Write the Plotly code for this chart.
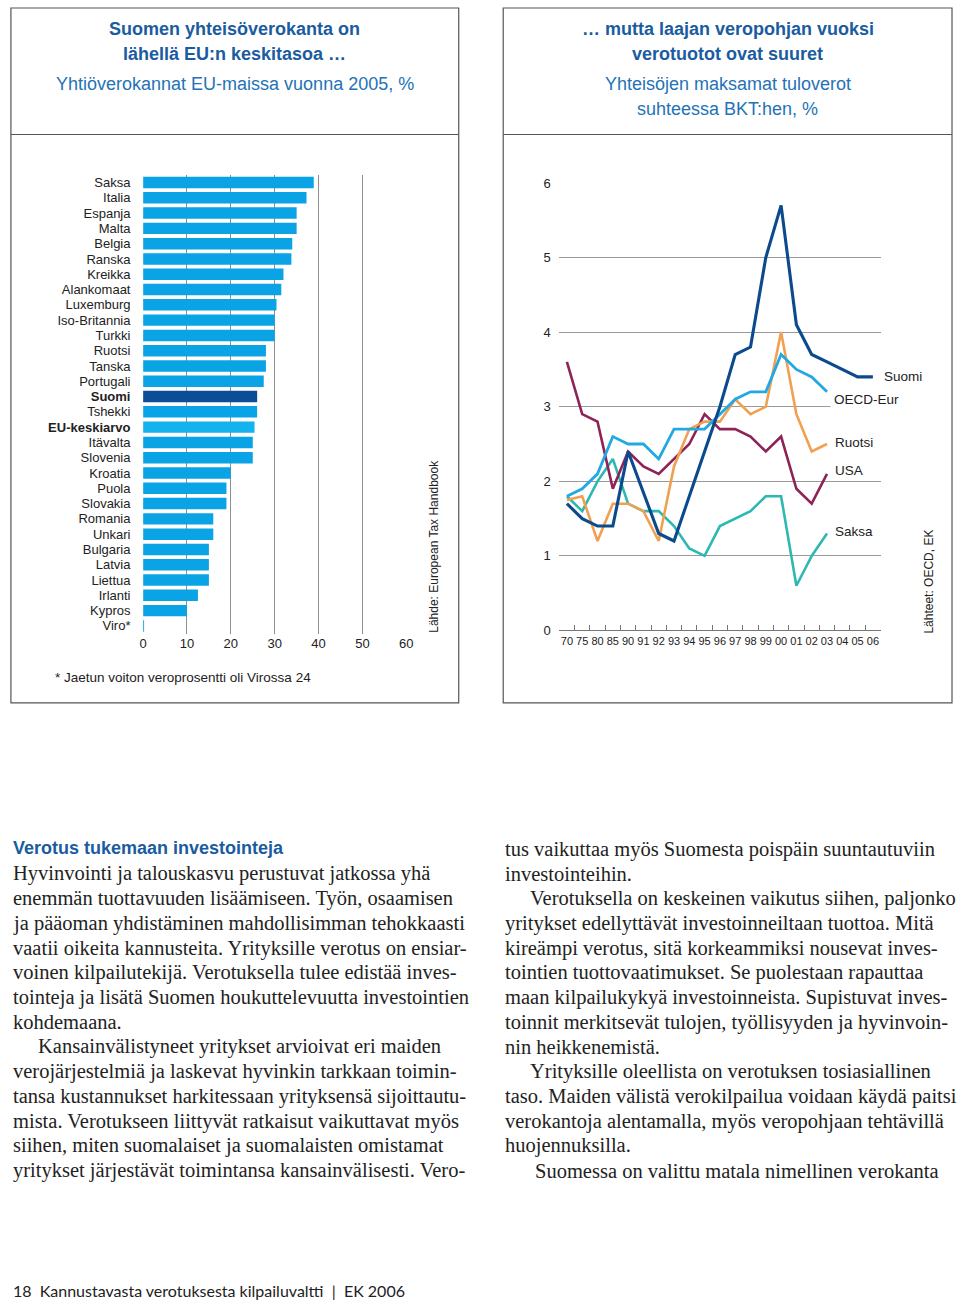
import plotly.graph_objects as go

# ---------------- data ----------------
countries = ["Saksa", "Italia", "Espanja", "Malta", "Belgia", "Ranska", "Kreikka",
             "Alankomaat", "Luxemburg", "Iso-Britannia", "Turkki", "Ruotsi", "Tanska",
             "Portugali", "Suomi", "Tshekki", "EU-keskiarvo", "Itävalta", "Slovenia",
             "Kroatia", "Puola", "Slovakia", "Romania", "Unkari", "Bulgaria", "Latvia",
             "Liettua", "Irlanti", "Kypros", "Viro*"]
tax_rates = [38.9, 37.25, 35.0, 35.0, 34.0, 33.8, 32.0, 31.5, 30.4, 30.0, 30.0, 28.0, 28.0,
             27.5, 26.0, 26.0, 25.4, 25.0, 25.0, 20.0, 19.0, 19.0, 16.0, 16.0, 15.0, 15.0,
             15.0, 12.5, 10.0, 0.2]
bar_ticks = [0, 10, 20, 30, 40, 50, 60]

years = ["70", "75", "80", "85", "90", "91", "92", "93", "94", "95", "96", "97", "98",
         "99", "00", "01", "02", "03", "04", "05", "06"]
suomi = [1.7, 1.5, 1.4, 1.4, 2.4, 1.85, 1.3, 1.2, 1.8, 2.4, 3.0, 3.7, 3.8, 5.0, 5.7, 4.1,
         3.7, 3.6, 3.5, 3.4, 3.4]
oecd_eur = [1.8, 1.9, 2.1, 2.6, 2.5, 2.5, 2.3, 2.7, 2.7, 2.7, 2.9, 3.1, 3.2, 3.2, 3.7, 3.5,
            3.4, 3.2, None, None, None]
ruotsi = [1.75, 1.8, 1.2, 1.7, 1.7, 1.6, 1.2, 2.2, 2.7, 2.8, 2.8, 3.1, 2.9, 3.0, 4.0, 2.9,
          2.4, 2.5, None, None, None]
usa = [3.6, 2.9, 2.8, 1.9, 2.4, 2.2, 2.1, 2.3, 2.5, 2.9, 2.7, 2.7, 2.6, 2.4, 2.6, 1.9,
       1.7, 2.1, None, None, None]
saksa = [1.8, 1.6, 2.0, 2.3, 1.7, 1.6, 1.6, 1.4, 1.1, 1.0, 1.4, 1.5, 1.6, 1.8, 1.8, 0.6,
         1.0, 1.3, None, None, None]
line_ticks = [0, 1, 2, 3, 4, 5, 6]

# ---------------- page geometry helpers ----------------
W, H = 960, 1310
def px(x):
    return x / W
def py(y):
    return 1 - y / H

SANS = "Liberation Sans, Arial, Helvetica, sans-serif"
SERIF = "Liberation Serif, Times New Roman, serif"
TITLE_BLUE = "#1a5c9f"
SUB_BLUE = "#2472b6"
TXT = "#222222"

fig = go.Figure()

# ---------------- bar chart ----------------
highlight = {"Suomi": "#0b4e97", "EU-keskiarvo": "#14b3ee"}
bar_colors = [highlight.get(c, "#0aa4e6") for c in countries]
ticktext = [f"<b>{c}</b>" if c in highlight else c for c in countries]

fig.add_trace(go.Bar(
    x=tax_rates, y=countries, orientation="h",
    marker=dict(color=bar_colors, line=dict(width=0)),
    xaxis="x", yaxis="y", showlegend=False, hoverinfo="x+y",
))

# ---------------- line chart ----------------
series = [
    ("Saksa", saksa, "#2db8b1", 2.6),
    ("USA", usa, "#8d2357", 2.6),
    ("Ruotsi", ruotsi, "#f0a050", 2.6),
    ("OECD-Eur", oecd_eur, "#22a8e2", 2.8),
    ("Suomi", suomi, "#0b4a8c", 3.1),
]
for name, vals, col, w in series:
    fig.add_trace(go.Scatter(
        x=years, y=vals, mode="lines", name=name,
        line=dict(color=col, width=w), connectgaps=False,
        xaxis="x2", yaxis="y2", showlegend=False,
    ))

annotations = []
def ann(x, y, text, size, color=TXT, family=SANS, xanchor="left", yanchor="middle", **kw):
    annotations.append(dict(x=px(x), y=py(y), xref="paper", yref="paper", text=text,
                            showarrow=False, xanchor=xanchor, yanchor=yanchor,
                            font=dict(size=size, color=color, family=family), **kw))

# series labels (placed next to line ends)
ann(888, 374, "Suomi", 13.5)
ann(836, 397, "OECD-Eur", 13.5, bgcolor="white", borderpad=3)
ann(839, 441, "Ruotsi", 13.5)
ann(839, 469, "USA", 13.5)
ann(839, 531, "Saksa", 13.5)

# sources (rotated)
ann(435, 546, "Lähde: European Tax Handbook", 12, xanchor="center", textangle=-90)
ann(936, 581, "Lähteet: OECD, EK", 12, xanchor="center", textangle=-90)

# footnote
ann(50, 678, "* Jaetun voiton veroprosentti oli Virossa 24", 13.5)

# panel titles
ann(233.5, 22, "<b>Suomen yhteisöverokanta on</b>", 18, TITLE_BLUE, xanchor="center")
ann(233.5, 48, "<b>lähellä EU:n keskitasoa …</b>", 18, TITLE_BLUE, xanchor="center")
ann(233.5, 78, "Yhtiöverokannat EU-maissa vuonna 2005, %", 18, SUB_BLUE, xanchor="center")
ann(732, 22, "<b>… mutta laajan veropohjan vuoksi</b>", 18, TITLE_BLUE, xanchor="center")
ann(732, 48, "<b>verotuotot ovat suuret</b>", 18, TITLE_BLUE, xanchor="center")
ann(732, 78, "Yhteisöjen maksamat tuloverot", 18, SUB_BLUE, xanchor="center")
ann(732, 103, "suhteessa BKT:hen, %", 18, SUB_BLUE, xanchor="center")

# body text
ann(7, 851, "<b>Verotus tukemaan investointeja</b>", 18, TITLE_BLUE)
left_lines = [
    ("Hyvinvointi ja talouskasvu perustuvat jatkossa yhä", 0),
    ("enemmän tuottavuuden lisäämiseen. Työn, osaamisen", 0),
    ("ja pääoman yhdistäminen mahdollisimman tehokkaasti", 0),
    ("vaatii oikeita kannusteita. Yrityksille verotus on ensiar-", 0),
    ("voinen kilpailutekijä. Verotuksella tulee edistää inves-", 0),
    ("tointeja ja lisätä Suomen houkuttelevuutta investointien", 0),
    ("kohdemaana.", 0),
    ("Kansainvälistyneet yritykset arvioivat eri maiden", 25),
    ("verojärjestelmiä ja laskevat hyvinkin tarkkaan toimin-", 0),
    ("tansa kustannukset harkitessaan yrityksensä sijoittautu-", 0),
    ("mista. Verotukseen liittyvät ratkaisut vaikuttavat myös", 0),
    ("siihen, miten suomalaiset ja suomalaisten omistamat", 0),
    ("yritykset järjestävät toimintansa kansainvälisesti. Vero-", 0),
]
right_lines = [
    ("tus vaikuttaa myös Suomesta poispäin suuntautuviin", 0),
    ("investointeihin.", 0),
    ("Verotuksella on keskeinen vaikutus siihen, paljonko", 25),
    ("yritykset edellyttävät investoinneiltaan tuottoa. Mitä", 0),
    ("kireämpi verotus, sitä korkeammiksi nousevat inves-", 0),
    ("tointien tuottovaatimukset. Se puolestaan rapauttaa", 0),
    ("maan kilpailukykyä investoinneista. Supistuvat inves-", 0),
    ("toinnit merkitsevät tulojen, työllisyyden ja hyvinvoin-", 0),
    ("nin heikkenemistä.", 0),
    ("Yrityksille oleellista on verotuksen tosiasiallinen", 25),
    ("taso. Maiden välistä verokilpailua voidaan käydä paitsi", 0),
    ("verokantoja alentamalla, myös veropohjaan tehtävillä", 0),
    ("huojennuksilla.", 0),
    ("Suomessa on valittu matala nimellinen verokanta", 30),
]
for i, (t, ind) in enumerate(left_lines):
    ann(7 + ind, 877 + 25 * i, t, 20.5, TXT, SERIF)
for i, (t, ind) in enumerate(right_lines):
    ann(505 + ind, 852 + 25 * i, t, 20.5, TXT, SERIF)

# footer
ann(7, 1298, "18  Kannustavasta verotuksesta kilpailuvaltti  |  EK 2006", 16, TXT,
    "Lato, Open Sans, sans-serif")

# ---------------- frames ----------------
shapes = []
def rect(x0, y0, x1, y1):
    shapes.append(dict(type="rect", xref="paper", yref="paper", x0=px(x0), x1=px(x1),
                       y0=py(y1), y1=py(y0), line=dict(color="#555555", width=1.2),
                       fillcolor="rgba(0,0,0,0)", layer="below"))
def hline(x0, x1, y):
    shapes.append(dict(type="line", xref="paper", yref="paper", x0=px(x0), x1=px(x1),
                       y0=py(y), y1=py(y), line=dict(color="#555555", width=1.2)))
rect(7, 1, 460, 704)
rect(505, 1, 959, 704)
hline(7, 460, 129)
hline(505, 959, 129)

fig.update_layout(
    autosize=True, margin=dict(l=0, r=0, t=0, b=0),
    paper_bgcolor="white", plot_bgcolor="white",
    bargap=0.25,
    font=dict(family=SANS, color=TXT),
    xaxis=dict(domain=[px(140.7), px(407)], range=[0, 60], tickvals=bar_ticks,
               showgrid=True, gridcolor="#8f8f8f", gridwidth=1, zeroline=False,
               showline=False, ticks="", tickfont=dict(size=13, color=TXT),
               anchor="y", fixedrange=True),
    yaxis=dict(domain=[py(633.8), py(169.8)], type="category", autorange="reversed",
               tickvals=countries, ticktext=ticktext, showgrid=False, zeroline=False,
               ticks="outside", ticklen=9, tickcolor="rgba(0,0,0,0)",
               tickfont=dict(size=13, color=TXT), anchor="x", fixedrange=True),
    xaxis2=dict(domain=[px(561.7), px(886.7)], type="category", range=[-0.5, 20.5],
                tickvals=years, tickson="boundaries", ticks="inside", ticklen=5,
                tickcolor="#777777", showline=True, linecolor="#777777", linewidth=1,
                showgrid=False, zeroline=False, tickangle=0,
                tickfont=dict(size=11, color=TXT), anchor="y2", fixedrange=True),
    yaxis2=dict(domain=[py(630.7), py(178)], range=[0, 6], tickvals=line_ticks,
                showgrid=True, gridcolor="#9a9a9a", gridwidth=1, zeroline=False,
                showline=False, ticks="outside", ticklen=5, tickcolor="rgba(0,0,0,0)",
                tickfont=dict(size=13, color=TXT), anchor="x2", fixedrange=True),
    annotations=annotations, shapes=shapes,
)

# the div is pinned to the page's top-left corner so the 960x1310 figure fills the window
fig.write_html("out.html", config={"displayModeBar": False},
               default_width="960px;position:absolute;left:0;top:0",
               default_height="1310px")
